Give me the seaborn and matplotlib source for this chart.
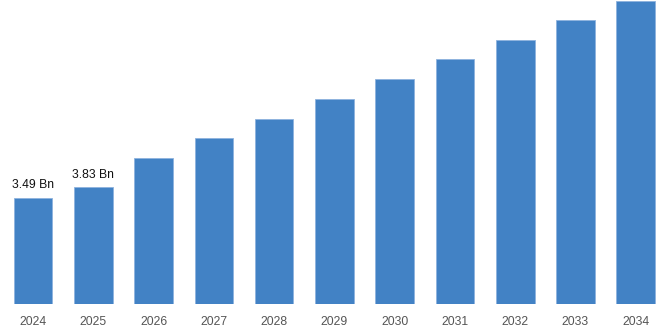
import matplotlib
matplotlib.use("Agg")
import matplotlib.pyplot as plt
import seaborn as sns
import pandas as pd

years = ["2024", "2025", "2026", "2027", "2028", "2029", "2030", "2031", "2032", "2033", "2034"]
market_size = [3.49, 3.83, 4.78, 5.44, 6.08, 6.73, 7.38, 8.03, 8.68, 9.32, 9.96]
labelled_years = {"2024": "3.49 Bn", "2025": "3.83 Bn"}

df = pd.DataFrame({"year": years, "value": market_size})

sns.set_theme(style="white")
plt.rcParams["font.family"] = ["Liberation Sans", "DejaVu Sans"]

fig = plt.figure(figsize=(6.68, 3.34), dpi=100)
ax = fig.add_axes([2.9 / 668, 30 / 334, 663 / 668, 304 / 334])

sns.barplot(data=df, x="year", y="value", color="#4282C5", saturation=1,
            width=0.64, edgecolor="#8DB2DE", linewidth=0.6, ax=ax)

ax.set_xlim(-0.5, len(years) - 0.5)
ax.set_ylim(0, 9.98)

for i, (yr, val) in enumerate(zip(years, market_size)):
    if yr in labelled_years:
        ax.text(i, val + 0.22, labelled_years[yr], ha="center", va="bottom",
                fontsize=8.7, color="#111111")

ax.set_xlabel("")
ax.set_ylabel("")
ax.set_yticks([])
ax.tick_params(axis="x", length=0, pad=8.5, labelsize=8.7, labelcolor="#555555")
for s in ax.spines.values():
    s.set_visible(False)

fig.savefig("out.png", dpi=100)
